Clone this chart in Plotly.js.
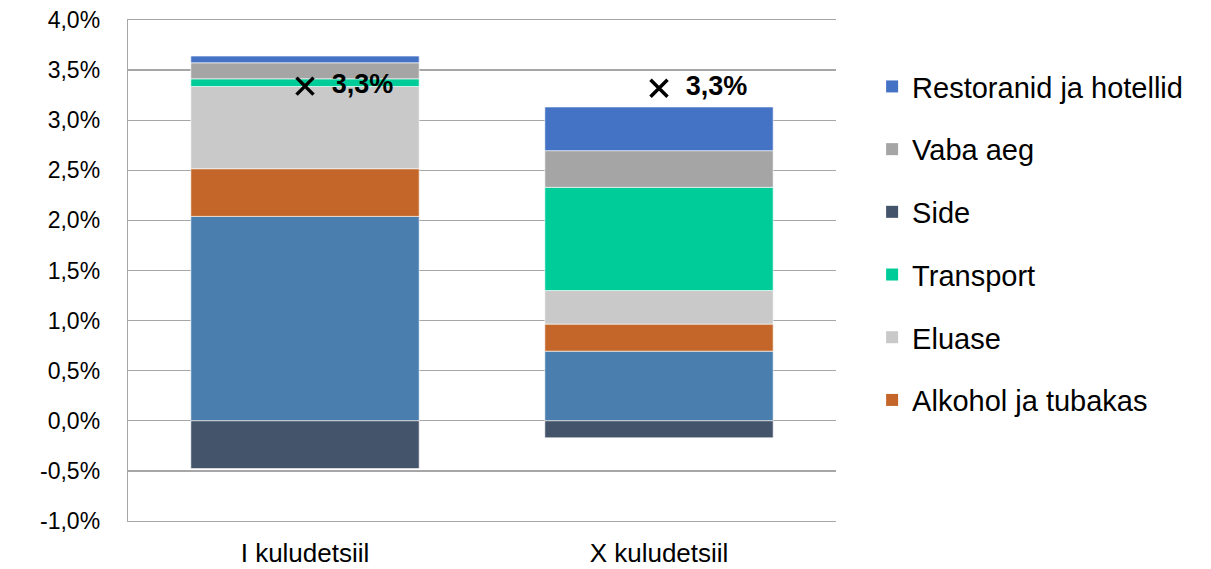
<!DOCTYPE html>
<html>
<head>
<meta charset="utf-8">
<script src="https://cdn.plot.ly/plotly-3.0.1.min.js"></script>
<style>html,body{margin:0;padding:0;background:#fff}#chart{width:1211px;height:569px}</style>
</head>
<body>
<div id="chart"></div>
<script>
var categories = ["I kuludetsiil", "X kuludetsiil"];
var toit = [2.04, 0.695];
var alkohol = [0.476, 0.27];
var eluase = [0.82, 0.335];
var transport = [0.077, 1.03];
var side = [-0.477, -0.17];
var vabaAeg = [0.16, 0.366];
var restoranid = [0.067, 0.436];
var kokku = [3.34, 3.32];
var yTicks = [-1, -0.5, 0, 0.5, 1, 1.5, 2, 2.5, 3, 3.5, 4];
var yTickLabels = ["-1,0%", "-0,5%", "0,0%", "0,5%", "1,0%", "1,5%", "2,0%", "2,5%", "3,0%", "3,5%", "4,0%"];

var FONT = "Liberation Sans, Arial, sans-serif";

var series = [
  {name: "Toit", vals: toit, color: "#4A7EAF", legend: false, rank: 7},
  {name: "Alkohol ja tubakas", vals: alkohol, color: "#C4662A", legend: true, rank: 6},
  {name: "Eluase", vals: eluase, color: "#C9C9C9", legend: true, rank: 5},
  {name: "Transport", vals: transport, color: "#00CC99", legend: true, rank: 4},
  {name: "Side", vals: side, color: "#44546A", legend: true, rank: 3},
  {name: "Vaba aeg", vals: vabaAeg, color: "#A5A5A5", legend: true, rank: 2},
  {name: "Restoranid ja hotellid", vals: restoranid, color: "#4472C4", legend: true, rank: 1}
];

var traces = [];
series.forEach(function (s) {
  traces.push({
    type: "bar", name: s.name, x: categories, y: s.vals,
    marker: {color: s.color, line: {color: "rgba(255,255,255,0.6)", width: 1}},
    showlegend: false, hoverinfo: "name+y"
  });
});
series.forEach(function (s) {
  if (!s.legend) return;
  traces.push({
    type: "scatter", mode: "markers", name: s.name, x: [null], y: [null],
    marker: {symbol: "square", size: 19, color: s.color},
    showlegend: true, legendgroup: s.name, legendrank: s.rank, hoverinfo: "skip"
  });
});
traces.push({
  type: "scatter", mode: "markers+text", name: "Kokku",
  x: categories, y: kokku, showlegend: false,
  marker: {symbol: "x-thin", size: 17, color: "#000", line: {color: "#000", width: 3.5}},
  texttemplate: "  %{y:.1f}%", textposition: "middle right",
  textfont: {family: FONT, size: 27, color: "#000", weight: "bold"},
  cliponaxis: false
});

var layout = {
  width: 1211, height: 569,
  margin: {l: 128, r: 375, t: 20, b: 48},
  paper_bgcolor: "#fff", plot_bgcolor: "#fff",
  barmode: "relative", bargap: 0.355,
  separators: ", ",
  font: {family: FONT, size: 26, color: "#000"},
  xaxis: {
    type: "category", showgrid: false, zeroline: false,
    showline: true, mirror: true, linecolor: "#A6A6A6", linewidth: 1.3,
    ticks: "", tickfont: {size: 26}, ticklabelstandoff: 8
  },
  yaxis: {
    range: [-1, 4], tickvals: yTicks, ticktext: yTickLabels,
    showgrid: true, gridcolor: "#A6A6A6", gridwidth: 1.3,
    zeroline: true, zerolinecolor: "#A6A6A6", zerolinewidth: 1.3,
    showline: true, linecolor: "#A6A6A6", linewidth: 1.3,
    ticks: "", tickfont: {size: 23}, ticklabelstandoff: 22
  },
  legend: {
    x: 1.051, xanchor: "left", y: 0.918, yanchor: "top",
    traceorder: "grouped", tracegroupgap: 22,
    font: {size: 29}, itemsizing: "constant"
  },
  showlegend: true
};

Plotly.newPlot("chart", traces, layout, {displayModeBar: false, staticPlot: true});
</script>
</body>
</html>
